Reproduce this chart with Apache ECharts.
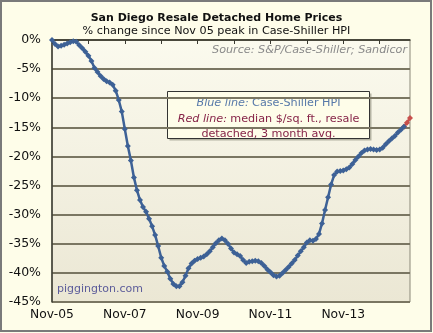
<!DOCTYPE html>
<html>
<head>
<meta charset="utf-8">
<script src="https://cdn.jsdelivr.net/npm/echarts@6/dist/echarts.min.js"></script>
<style>
  html, body { margin: 0; padding: 0; background: #fefde9; }
  #chart { width: 433px; height: 333px; }
</style>
</head>
<body>
<div id="chart"></div>
<script>
// Monthly labels from Nov-05 through Sep-15
const monthNames = ['Jan','Feb','Mar','Apr','May','Jun','Jul','Aug','Sep','Oct','Nov','Dec'];
const months = [];
for (let k = 0; k < 119; k++) {
  const m = (10 + k) % 12;
  const y = 5 + Math.floor((10 + k) / 12);
  months.push(monthNames[m] + '-' + String(y).padStart(2, '0'));
}

// Case-Shiller HPI, % change since Nov 05 peak (Nov-05 .. Jul-15)
const caseShiller = [
  0, -0.7, -1.1, -1.0, -0.8, -0.6, -0.4, -0.2, -0.3, -0.9,
  -1.4, -2.0, -2.7, -3.6, -4.8, -5.5, -6.2, -6.7, -7.1, -7.3,
  -7.7, -8.7, -10.3, -12.3, -15.3, -18.2, -20.7, -23.6, -25.8, -27.5,
  -28.7, -29.5, -30.7, -32.0, -33.5, -35.4, -37.4, -38.8, -39.8, -41.0,
  -41.9, -42.3, -42.3, -41.6, -40.5, -39.2, -38.4, -37.9, -37.6, -37.4,
  -37.2, -36.8, -36.3, -35.6, -34.9, -34.4, -34.1, -34.4, -35.0, -35.8,
  -36.5, -36.8, -37.1, -37.8, -38.3, -38.1, -38.0, -37.9, -38.0, -38.3,
  -38.8, -39.4, -39.9, -40.4, -40.6, -40.5, -40.0, -39.5, -39.0, -38.4,
  -37.8, -37.0, -36.3, -35.6, -34.8, -34.4, -34.5, -34.2, -33.3, -31.5,
  -29.2, -27.0, -24.8, -23.2, -22.6, -22.5, -22.4, -22.2, -21.9, -21.3,
  -20.6, -20.0, -19.4, -19.0, -18.8, -18.7, -18.8, -18.9, -18.8, -18.5,
  -17.9, -17.4, -16.9, -16.5, -15.9, -15.4, -14.9
];

// Median $/sq. ft. (resale detached, 3 month avg.), last months only
const medianPsf = [-14.9, -14.2, -13.4];
const medianStart = 116;

const yTicks = { min: -45, max: 0, interval: 5 };

const redData = months.map((_, i) =>
  i >= medianStart ? medianPsf[i - medianStart] : null);

const chart = echarts.init(document.getElementById('chart'));
const font = '"DejaVu Sans", Verdana, sans-serif';

chart.setOption({
  backgroundColor: '#fefde9',
  animation: false,
  title: {
    text: 'San Diego Resale Detached Home Prices',
    subtext: '% change since Nov 05 peak in Case-Shiller HPI',
    left: 'center',
    top: 8,
    itemGap: 2,
    textStyle: { fontFamily: font, fontSize: 11, fontWeight: 'bold', color: '#111' },
    subtextStyle: { fontFamily: font, fontSize: 11.2, color: '#111' }
  },
  grid: { left: 52, right: 23, top: 40, bottom: 31 },
  xAxis: {
    type: 'category',
    data: months,
    boundaryGap: false,
    axisLine: { lineStyle: { color: '#3a3a30', width: 1.5 } },
    axisTick: { interval: 11, length: 4, lineStyle: { color: '#3a3a30' } },
    axisLabel: {
      interval: 23, margin: 7,
      fontFamily: font, fontSize: 12.3, color: '#111'
    },
    splitLine: { show: false }
  },
  yAxis: {
    type: 'value',
    min: yTicks.min, max: yTicks.max, interval: yTicks.interval,
    axisLine: { show: true, lineStyle: { color: '#3a3a30', width: 1.5 } },
    axisTick: { show: false },
    axisLabel: {
      formatter: '{value}%', margin: 11,
      fontFamily: font, fontSize: 12.5, color: '#111'
    },
    splitLine: { lineStyle: { color: '#7a7662', width: 2 } }
  },
  graphic: [
    {
      type: 'rect', z: -10, silent: true,
      shape: { x: 52, y: 40, width: 358, height: 262 },
      style: {
        fill: new echarts.graphic.LinearGradient(0, 0, 0, 1, [
          { offset: 0, color: '#fbfaee' },
          { offset: 1, color: '#ebe7d4' }
        ]),
        stroke: '#8a8878', lineWidth: 1
      }
    },
    {
      type: 'text', left: 'auto', right: 26, top: 45, silent: true,
      style: {
        text: 'Source: S&P/Case-Shiller; Sandicor',
        font: 'italic 11.2px ' + font, fill: '#8a8a8a'
      }
    },
    {
      type: 'text', left: 57, top: 284, silent: true,
      style: {
        text: 'piggington.com',
        font: '11px ' + font, fill: '#5c5c9a'
      }
    },
    {
      type: 'group', left: 167, top: 91, z: 20,
      children: [
        {
          type: 'rect',
          shape: { x: 2, y: 2, width: 202, height: 47 },
          style: { fill: 'rgba(60,60,40,0.35)' }
        },
        {
          type: 'rect',
          shape: { x: 0, y: 0, width: 202, height: 47 },
          style: { fill: '#fefde9', stroke: '#333', lineWidth: 1 }
        },
        {
          type: 'text', x: 101, y: 4,
          style: {
            text: '{bi|Blue line:} {b|Case-Shiller HPI}\n{ri|Red line:} {r|median $/sq. ft., resale}\n{r|detached, 3 month avg.}',
            align: 'center',
            lineHeight: 15.5,
            rich: {
              bi: { font: 'italic 11.2px ' + font, fill: '#5779a9' },
              b: { font: '11.2px ' + font, fill: '#5779a9' },
              ri: { font: 'italic 11.2px ' + font, fill: '#862448' },
              r: { font: '11.2px ' + font, fill: '#862448' }
            }
          }
        }
      ]
    },
    {
      type: 'rect', silent: true, z: 30,
      shape: { x: 1, y: 1, width: 430, height: 330 },
      style: { fill: 'none', stroke: '#7a7a7a', lineWidth: 2 }
    }
  ],
  series: [
    {
      name: 'Case-Shiller HPI',
      type: 'line',
      data: caseShiller,
      symbol: 'diamond',
      symbolSize: 6,
      showAllSymbol: true,
      lineStyle: { color: '#3d6196', width: 2.5 },
      itemStyle: { color: '#3d6196' },
      z: 5
    },
    {
      name: 'Median $/sq. ft.',
      type: 'line',
      data: redData,
      symbol: 'diamond',
      symbolSize: 6,
      showAllSymbol: true,
      lineStyle: { color: '#c8504d', width: 2.5 },
      itemStyle: { color: '#c8504d' },
      z: 4
    }
  ]
});
</script>
</body>
</html>
